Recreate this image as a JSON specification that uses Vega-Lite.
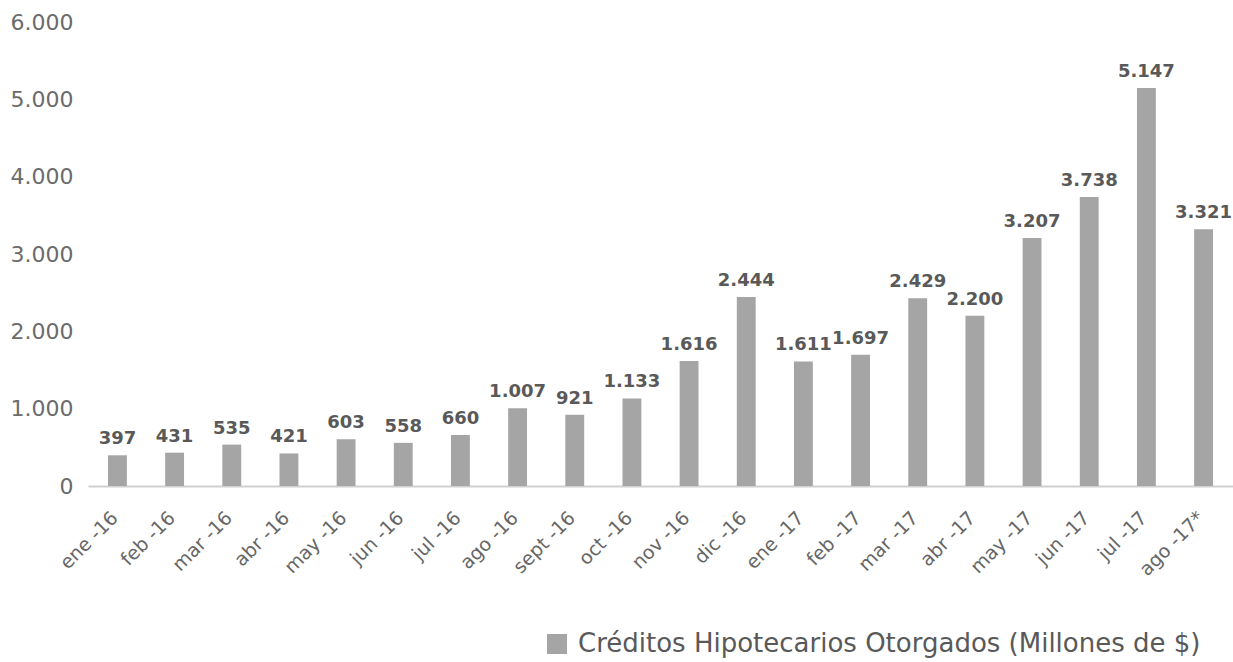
{
  "$schema": "https://vega.github.io/schema/vega-lite/v6.json",
  "autosize": "none",
  "width": 1145,
  "height": 464,
  "padding": {"left": 88, "top": 22, "right": 0, "bottom": 176},
  "background": "white",
  "config": {
    "view": {"stroke": null},
    "font": "DejaVu Sans",
    "locale": {"number": {"decimal": ",", "thousands": ".", "grouping": [3], "currency": ["$", ""]}}
  },
  "data": {
    "values": [
      {"mes": "ene -16", "valor": 397},
      {"mes": "feb -16", "valor": 431},
      {"mes": "mar -16", "valor": 535},
      {"mes": "abr -16", "valor": 421},
      {"mes": "may -16", "valor": 603},
      {"mes": "jun -16", "valor": 558},
      {"mes": "jul -16", "valor": 660},
      {"mes": "ago -16", "valor": 1007},
      {"mes": "sept -16", "valor": 921},
      {"mes": "oct -16", "valor": 1133},
      {"mes": "nov -16", "valor": 1616},
      {"mes": "dic -16", "valor": 2444},
      {"mes": "ene -17", "valor": 1611},
      {"mes": "feb -17", "valor": 1697},
      {"mes": "mar -17", "valor": 2429},
      {"mes": "abr -17", "valor": 2200},
      {"mes": "may -17", "valor": 3207},
      {"mes": "jun -17", "valor": 3738},
      {"mes": "jul -17", "valor": 5147},
      {"mes": "ago -17*", "valor": 3321}
    ]
  },
  "encoding": {
    "x": {
      "field": "mes",
      "type": "nominal",
      "sort": null,
      "title": null,
      "scale": {"paddingInner": 0.67, "paddingOuter": 0.35},
      "axis": {
        "labelAngle": -45,
        "labelFontSize": 19,
        "labelColor": "#666666",
        "labelPadding": 22,
        "labelOffset": -9,
        "domainColor": "#d0d0d0",
        "domainWidth": 2,
        "ticks": false
      }
    },
    "y": {
      "field": "valor",
      "type": "quantitative",
      "title": null,
      "scale": {"domain": [0, 6000]},
      "axis": {
        "values": [0, 1000, 2000, 3000, 4000, 5000, 6000],
        "format": ",d",
        "grid": false,
        "domain": false,
        "ticks": false,
        "labelFontSize": 22,
        "labelColor": "#6b6b6b",
        "labelPadding": 15
      }
    }
  },
  "layer": [
    {
      "mark": {"type": "bar", "color": "#a5a5a5"},
      "encoding": {
        "color": {
          "datum": "Créditos Hipotecarios Otorgados (Millones de $)",
          "type": "nominal",
          "scale": {"range": ["#a5a5a5"]},
          "legend": {
            "title": null,
            "orient": "none",
            "legendX": 456,
            "legendY": 609,
            "symbolType": "square",
            "symbolSize": 400,
            "symbolStrokeWidth": 0,
            "labelFontSize": 26,
            "labelColor": "#595959",
            "labelOffset": 8,
            "labelLimit": 900
          }
        }
      }
    },
    {
      "mark": {
        "type": "text",
        "fontWeight": "bold",
        "fontSize": 18,
        "color": "#595959",
        "baseline": "alphabetic",
        "dy": -11
      },
      "encoding": {
        "text": {"field": "valor", "type": "quantitative", "format": ",d"}
      }
    }
  ]
}
